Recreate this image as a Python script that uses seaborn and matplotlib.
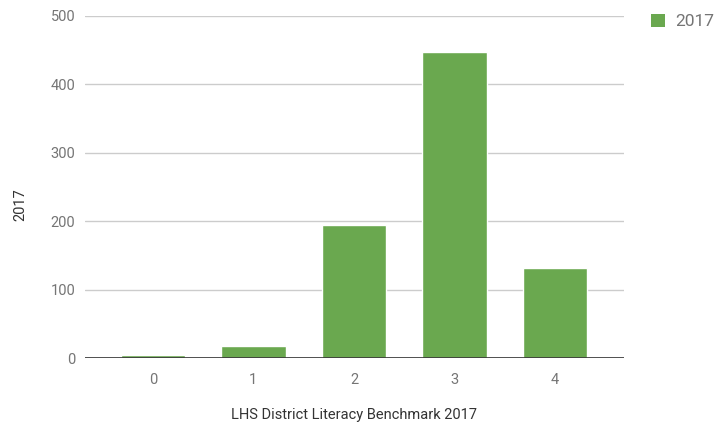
import matplotlib
matplotlib.use("Agg")
import matplotlib.pyplot as plt
import seaborn as sns
import pandas as pd
from matplotlib.patches import Patch

categories = ['0', '1', '2', '3', '4']
values_2017 = [4, 18, 195, 447, 132]
series_name = '2017'
x_title = 'LHS District Literacy Benchmark 2017'
y_title = '2017'

df = pd.DataFrame({'benchmark': categories, 'count': values_2017})

sns.set_style('white')
plt.rcParams['font.family'] = ['Roboto', 'DejaVu Sans']

text_grey = '#757575'
bar_green = '#6aa84f'

fig = plt.figure(figsize=(7.19, 4.30), dpi=100)
ax = fig.add_axes([0.118, 0.1674, 0.750, 0.7954])

sns.barplot(data=df, x='benchmark', y='count', color=bar_green,
            width=0.64, saturation=1, ax=ax, zorder=3)

ax.set_ylim(0, 500)
ax.set_yticks([0, 100, 200, 300, 400, 500])
ax.set_xlim(-0.677, 4.687)
ax.grid(axis='y', color='#cccccc', linewidth=1, zorder=0)
ax.axhline(0, color='#333333', linewidth=1.2, zorder=4)
for s in ax.spines.values():
    s.set_visible(False)

ax.tick_params(axis='both', length=0, labelsize=10.5, labelcolor=text_grey)
ax.tick_params(axis='y', pad=7)
ax.tick_params(axis='x', pad=11)
ax.set_xlabel('')
ax.set_ylabel('')

# axis titles placed like the original
fig.text(354 / 719, 1 - 415 / 430, x_title, ha='center', va='center',
         fontsize=10.5, color='#333333')
fig.text(20 / 719, 1 - 205 / 430, y_title, ha='center', va='center',
         rotation=90, fontsize=10.5, color='#333333')

handle = Patch(facecolor=bar_green, edgecolor='none')
fig.legend([handle], [series_name], loc='upper left',
           bbox_to_anchor=(642 / 719, 1 - 5 / 430), frameon=False,
           fontsize=12.5, borderpad=0, handlelength=0.8, handleheight=0.8,
           handletextpad=0.6, labelcolor=text_grey)

fig.savefig('out.png', dpi=100)
